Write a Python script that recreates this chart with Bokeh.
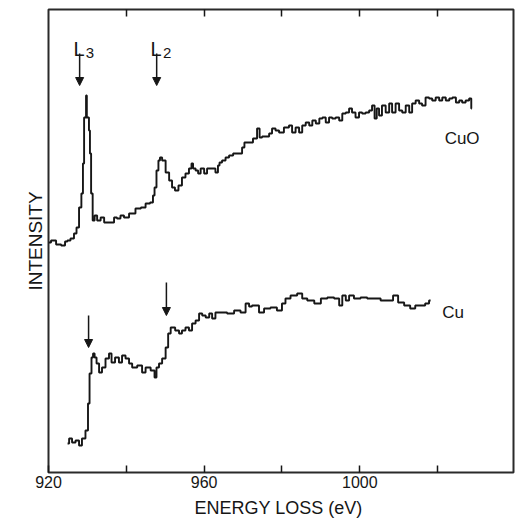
from bokeh.plotting import figure
from bokeh.models import Range1d, FixedTicker, LinearAxis, Label, Arrow, NormalHead
from bokeh.embed import file_html
from bokeh.resources import INLINE

# ---------------- data (energy loss in eV, intensity in arbitrary units) ----------------
cuo_energy = [920.0, 921.3, 922.6, 923.9, 924.6, 925.1, 926.2, 926.9, 927.5, 928.2, 928.7, 929.0,
              929.3, 929.5, 929.8, 929.9, 930.3, 930.5, 930.8, 931.1, 931.6, 932.1, 932.9, 933.9,
              934.7, 936.5, 937.2, 938.0, 939.0, 939.8, 941.6, 943.1, 944.4, 945.5, 946.7, 947.0,
              947.5, 948.0, 948.5, 948.8, 949.6, 950.6, 951.4, 952.1, 952.9, 953.9, 954.7, 955.7,
              956.5, 957.0, 957.3, 958.3, 958.6, 959.6, 960.4, 961.1, 962.4, 963.4, 963.7, 964.2,
              965.0, 966.0, 966.8, 968.1, 969.4, 970.1, 970.6, 971.9, 973.2, 974.0, 974.5, 975.3,
              976.3, 977.1, 977.8, 978.9, 979.6, 981.4, 982.2, 983.0, 984.0, 984.8, 985.6, 986.6,
              987.4, 988.2, 989.2, 990.0, 990.8, 991.7, 992.5, 993.3, 994.3, 995.1, 995.9, 996.9,
              997.6, 998.4, 999.4, 1000.2, 1001.0, 1002.0, 1002.8, 1003.5, 1004.1, 1004.6, 1005.3,
              1006.1, 1007.2, 1007.9, 1008.7, 1009.7, 1010.5, 1011.3, 1012.3, 1013.1, 1013.8,
              1014.9, 1015.6, 1016.4, 1017.4, 1018.2, 1019.0, 1020.0, 1020.8, 1021.6, 1022.6,
              1023.4, 1024.2, 1025.2, 1025.9, 1026.7, 1027.7, 1028.5, 1028.8]
cuo_intensity = [230, 232, 228, 227, 231, 232, 234, 239, 245, 265, 279, 309,
                 355, 355, 377, 355, 355, 342, 319, 279, 252, 257, 252, 255,
                 250, 250, 255, 254, 257, 255, 259, 264, 265, 269, 270, 277,
                 285, 302, 312, 315, 312, 300, 292, 285, 282, 287, 295, 299,
                 304, 309, 304, 302, 299, 304, 299, 304, 304, 300, 307, 310,
                 312, 315, 317, 319, 319, 325, 330, 330, 334, 344, 335, 336,
                 336, 339, 344, 342, 340, 345, 347, 340, 345, 340, 347, 350,
                 347, 352, 349, 354, 355, 350, 355, 354, 355, 352, 359, 360,
                 364, 360, 355, 360, 359, 360, 362, 367, 354, 364, 357,
                 367, 360, 369, 360, 369, 362, 360, 367, 360, 369,
                 372, 369, 367, 375, 374, 372, 375, 372, 375, 372,
                 374, 375, 370, 372, 370, 372, 374, 364]

cu_energy = [924.9, 925.7, 926.4, 927.5, 928.2, 929.0, 930.0, 930.3, 930.8, 931.3, 931.6, 932.1,
             932.6, 933.4, 934.1, 935.2, 935.9, 936.5, 937.7, 938.5, 939.3, 940.3, 941.1, 941.9,
             943.7, 944.4, 945.5, 947.0, 947.5, 948.0, 948.8, 949.6, 950.6, 950.9, 951.9, 953.2,
             953.9, 954.7, 955.7, 956.5, 957.3, 958.3, 959.1, 959.9, 960.9, 961.7, 962.4, 963.4,
             965.0, 966.8, 968.6, 970.1, 971.2, 971.9, 972.7, 973.7, 974.5, 976.3, 977.8, 979.6,
             980.4, 981.4, 983.0, 984.8, 985.6, 987.4, 989.2, 990.8, 992.5, 994.3, 995.1, 995.9,
             996.9, 997.6, 999.4, 1001.0, 1002.8, 1004.6, 1006.1, 1007.9, 1009.2, 1010.5, 1012.3,
             1013.6, 1014.9, 1016.2, 1017.4, 1018.2]
cu_intensity = [29, 34, 30, 32, 27, 34, 42, 69, 99, 115, 119, 115,
                109, 100, 105, 114, 119, 110, 115, 110, 117, 114, 109, 105,
                107, 100, 105, 102, 95, 105, 109, 114, 125, 139, 145, 142,
                139, 142, 145, 142, 149, 152, 159, 157, 155, 159, 154, 160,
                160, 159, 162, 160, 169, 166, 167, 167, 160, 164, 165, 162,
                169, 174, 177, 179, 174, 172, 169, 174, 175, 174, 167, 177,
                172, 177, 174, 175, 174, 174, 172, 172, 177, 170, 167,
                164, 167, 167, 169, 172]

x_ticks = [920, 940, 960, 980, 1000, 1020]
x_tick_labels = ["920", "", "960", "", "1000", ""]

# edge markers: label letter and subscript, energy, arrow tail, arrow tip
edge_letters = ["L", "L"]
edge_subscripts = ["3", "2"]
cuo_edge_energy = [928.0, 947.8]
cuo_arrow_from, cuo_arrow_to = 419, 387
cu_edge_energy = [930.3, 950.3]
cu_arrow_from = [157, 190]
cu_arrow_to = [125, 157]

FONT = "Liberation Sans"
INK = "#161616"

p = figure(width=521, height=520, x_range=Range1d(920, 1039.5), y_range=Range1d(0, 463),
           output_backend="svg", toolbar_location=None,
           min_border_left=48, min_border_right=8, min_border_top=9, min_border_bottom=48)
p.grid.visible = False
p.outline_line_color = "#2a2a2a"
p.outline_line_width = 2
p.background_fill_color = "white"
p.border_fill_color = "white"

# bottom axis
xa = p.xaxis[0]
xa.ticker = FixedTicker(ticks=x_ticks)
xa.major_label_overrides = {t: l for t, l in zip(x_ticks, x_tick_labels)}
xa.axis_line_color = None
xa.major_tick_in = 7
xa.major_tick_out = 0
xa.major_tick_line_width = 1.5
xa.major_tick_line_color = INK
xa.minor_tick_line_color = None
xa.major_label_standoff = 3
xa.major_label_text_font = FONT
xa.major_label_text_font_size = "16px"
xa.major_label_text_color = INK
xa.axis_label = "ENERGY LOSS  (eV)"
xa.axis_label_standoff = 7
xa.axis_label_text_font = FONT
xa.axis_label_text_font_size = "18px"
xa.axis_label_text_font_style = "normal"
xa.axis_label_text_color = INK

# left axis: only a title
ya = p.yaxis[0]
ya.ticker = FixedTicker(ticks=[])
ya.axis_line_color = None
ya.major_tick_line_color = None
ya.minor_tick_line_color = None
ya.major_label_text_font_size = "0px"
ya.axis_label = "INTENSITY"
ya.axis_label_standoff = 3
ya.axis_label_text_font = FONT
ya.axis_label_text_font_size = "19px"
ya.axis_label_text_font_style = "normal"
ya.axis_label_text_color = INK

# top axis: inward ticks only
top = LinearAxis(ticker=FixedTicker(ticks=x_ticks[1:]),
                 major_label_overrides={t: "" for t in x_ticks[1:]},
                 major_label_text_font_size="1px", major_label_standoff=0,
                 axis_line_color=None, major_tick_in=7, major_tick_out=0,
                 major_tick_line_width=1.5, major_tick_line_color=INK,
                 minor_tick_line_color=None)
p.add_layout(top, "above")

# spectra (channel-by-channel staircase)
p.step(cuo_energy, cuo_intensity, mode="center", line_width=1.9, line_color=INK)
p.step(cu_energy, cu_intensity, mode="center", line_width=1.9, line_color=INK)

# edge arrows and labels
for e in cuo_edge_energy:
    p.add_layout(Arrow(x_start=e, y_start=cuo_arrow_from, x_end=e, y_end=cuo_arrow_to,
                       line_width=1.5, line_color=INK,
                       end=NormalHead(size=8, fill_color=INK, line_color=INK, line_width=1)))
for e, a, b in zip(cu_edge_energy, cu_arrow_from, cu_arrow_to):
    p.add_layout(Arrow(x_start=e, y_start=a, x_end=e, y_end=b,
                       line_width=1.5, line_color=INK,
                       end=NormalHead(size=8, fill_color=INK, line_color=INK, line_width=1)))
for e, t, s in zip(cuo_edge_energy, edge_letters, edge_subscripts):
    p.add_layout(Label(x=e - 1.6, y=cuo_arrow_from + 5, text=t, text_font=FONT,
                       text_font_size="20px", text_color=INK, text_align="left",
                       text_baseline="alphabetic"))
    p.add_layout(Label(x=e + 1.6, y=cuo_arrow_from + 1, text=s, text_font=FONT,
                       text_font_size="15px", text_color=INK, text_align="left",
                       text_baseline="alphabetic"))

p.add_layout(Label(x=cuo_energy[-1] - 7.0, y=cuo_intensity[-1] - 30, text="CuO", text_font=FONT,
                   text_font_size="17px", text_color=INK, text_align="left",
                   text_baseline="alphabetic"))
p.add_layout(Label(x=cu_energy[-1] + 3.0, y=cu_intensity[-1] - 12, text="Cu", text_font=FONT,
                   text_font_size="17px", text_color=INK, text_align="left",
                   text_baseline="alphabetic"))

open("out.html", "w").write(file_html(p, INLINE))
